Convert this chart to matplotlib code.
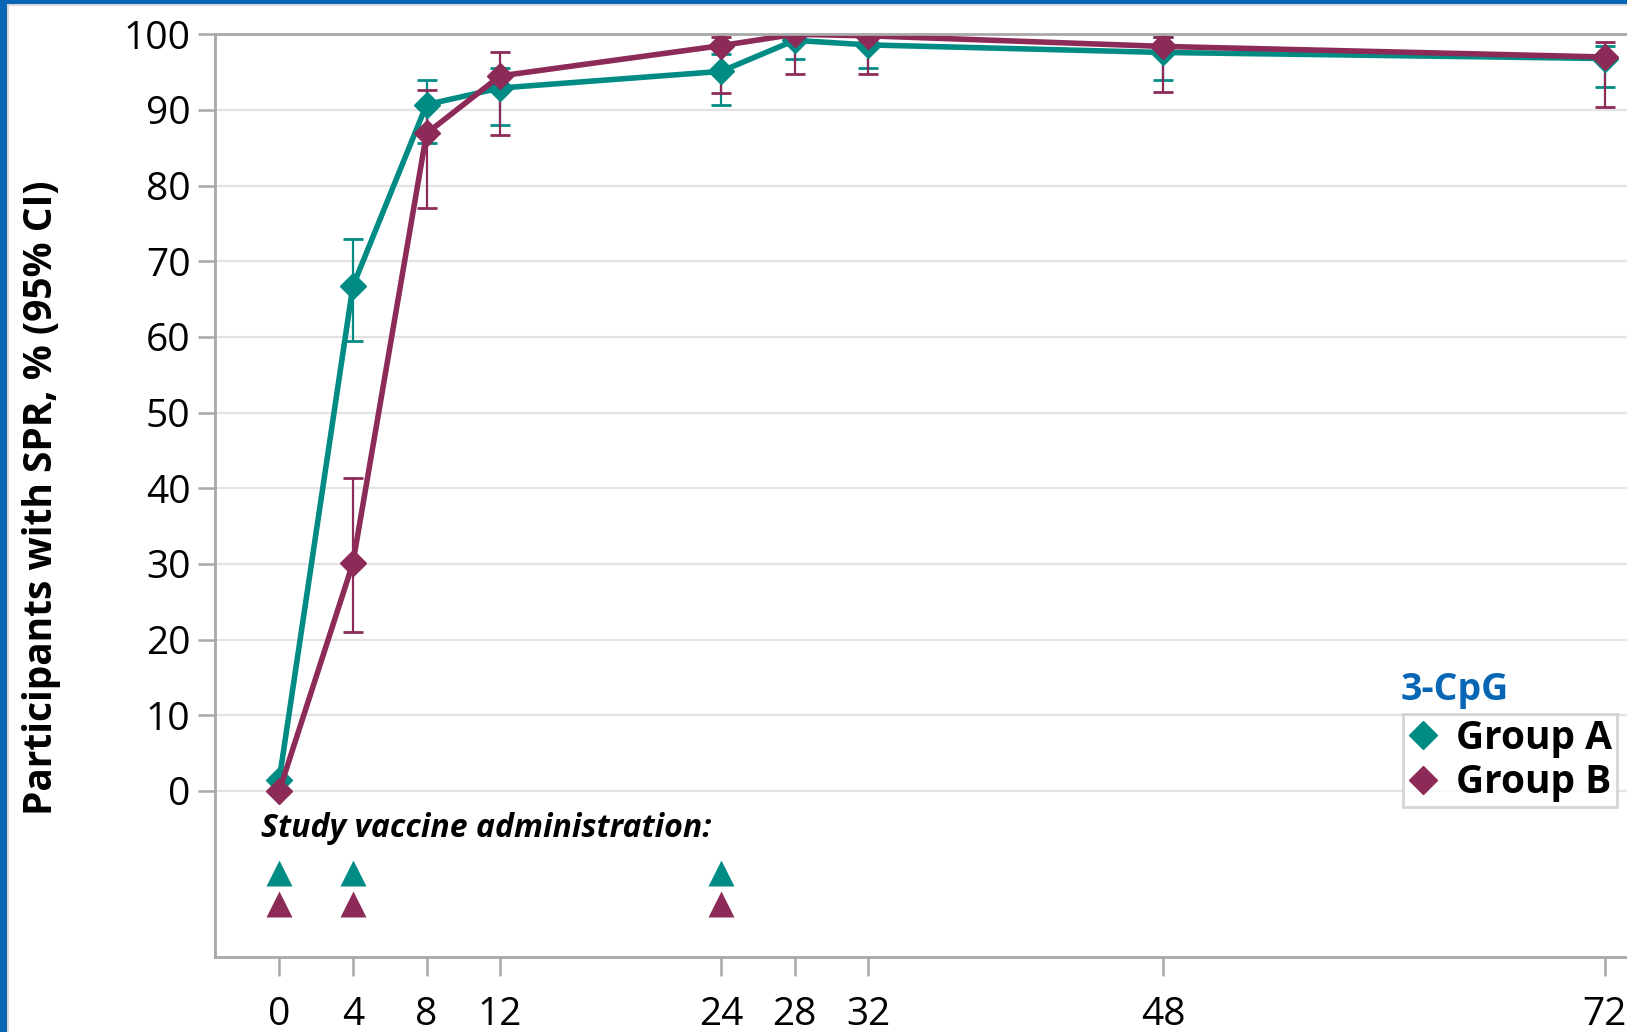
import matplotlib
matplotlib.use("Agg")
import matplotlib.pyplot as plt
from matplotlib.lines import Line2D
from matplotlib.patches import Rectangle
import numpy as np

plt.rcParams['font.family'] = ['Open Sans', 'DejaVu Sans']

# ---- data ----
weeks = [0, 4, 8, 12, 24, 28, 32, 48, 72]
group_a = [1.5, 66.7, 90.7, 92.9, 95.1, 99.2, 98.6, 97.6, 96.8]
group_a_lo = [1.5, 59.5, 85.6, 88.0, 90.7, 96.7, 95.6, 94.0, 93.0]
group_a_hi = [1.5, 72.9, 94.0, 95.6, 97.4, 100.0, 100.0, 99.6, 98.5]
group_b = [0.0, 30.1, 86.9, 94.5, 98.5, 100.0, 99.8, 98.4, 97.0]
group_b_lo = [0.0, 21.0, 77.1, 86.7, 92.2, 94.8, 94.8, 92.4, 90.4]
group_b_hi = [0.0, 41.3, 92.7, 97.6, 99.6, 100.0, 100.0, 99.6, 99.0]
vaccine_weeks = [0, 4, 24]
yticks = list(range(0, 101, 10))
series_names = ["Group A", "Group B"]
legend_title = "3-CpG"
ylabel = "Participants with SPR, % (95% CI)"
annot = "Study vaccine administration:"

TEAL = "#008C85"
MAROON = "#8C2B57"
BLUE = "#0767B4"
GRID = "#e3e3e3"
SPINE = "#a8a8a8"

W, H = 1627, 1032
fig = plt.figure(figsize=(W / 100, H / 100), dpi=100)
ax = fig.add_axes([214.8 / W, 1 - 956.7 / H, (1678.4 - 214.8) / W, (956.7 - 34.3) / H])
ax.set_xlim(-3.5, 76)
ax.set_ylim(-21.9, 100)

for y in yticks[:-1]:
    ax.axhline(y, color=GRID, lw=1.6, zorder=0)

def draw(vals, lo, hi, color):
    v = np.array(vals); l = np.array(lo); h = np.array(hi); x = np.array(weeks)
    m = (h - l) > 0
    ax.errorbar(x[m], v[m], yerr=[v[m] - l[m], h[m] - v[m]], fmt='none',
                ecolor=color, elinewidth=1.6, capsize=7.5, capthick=2.0, zorder=3)
    ax.plot(x, v, color=color, lw=4.0, marker='D', ms=13, mec=color, mfc=color, zorder=4)

draw(group_a, group_a_lo, group_a_hi, TEAL)
draw(group_b, group_b_lo, group_b_hi, MAROON)

# vaccine administration markers
ax.plot(vaccine_weeks, [-10.9] * len(vaccine_weeks), ls='none', marker='^', ms=19,
        color=TEAL, mec='none', zorder=4)
ax.plot(vaccine_weeks, [-15.0] * len(vaccine_weeks), ls='none', marker='^', ms=19,
        color=MAROON, mec='none', zorder=4)
ax.text(-1.0, -5.0, annot, fontsize=23, fontweight='bold', fontstyle='italic',
        ha='left', va='center', color='black')

# spines & ticks
for s in ['left', 'bottom', 'top']:
    ax.spines[s].set_color(SPINE)
    ax.spines[s].set_linewidth(2.0)
    ax.spines[s].set_zorder(6)
ax.spines['right'].set_visible(False)
ax.set_yticks(yticks)
ax.set_xticks(weeks)
ax.set_xticklabels([str(w) for w in weeks])
ax.tick_params(axis='y', length=12.5, width=1.8, color=SPINE, labelsize=28, pad=5)
ax.tick_params(axis='x', length=13.5, width=1.8, color=SPINE, labelsize=28, pad=15)

fig.text(41.5 / W, 1 - 498 / H, ylabel, rotation=90, ha='center', va='center',
         fontsize=28, fontweight='bold')

# legend
handles = [Line2D([], [], ls='none', marker='D', ms=14, color=TEAL),
           Line2D([], [], ls='none', marker='D', ms=14, color=MAROON)]
leg = fig.legend(handles, series_names, loc='upper left',
                 bbox_to_anchor=(1403 / W, 1 - 714 / H), bbox_transform=fig.transFigure,
                 prop={'size': 28, 'weight': 'bold'}, frameon=True, fancybox=False,
                 borderpad=0.12, labelspacing=0.15, handlelength=0.8, handletextpad=0.45,
                 borderaxespad=0)
leg.get_frame().set_edgecolor('#cccccc')
leg.get_frame().set_linewidth(2.0)
fig.text(1401 / W, 1 - 690 / H, legend_title, color=BLUE, fontsize=27,
         fontweight='bold', ha='left', va='center')

# slide border
fig.add_artist(Rectangle((0, 0), 7 / W, 1, transform=fig.transFigure, color=BLUE, lw=0))
fig.add_artist(Rectangle((7 / W, 0), 2 / W, 1 - 4 / H, transform=fig.transFigure, color='#d9d9d9', lw=0))
fig.add_artist(Rectangle((0, 1 - 4 / H), 1, 4 / H, transform=fig.transFigure, color=BLUE, lw=0))
fig.add_artist(Rectangle((7 / W, 1 - 6 / H), 1, 2 / H, transform=fig.transFigure, color='#d9d9d9', lw=0))

fig.savefig("out.png", dpi=100)
